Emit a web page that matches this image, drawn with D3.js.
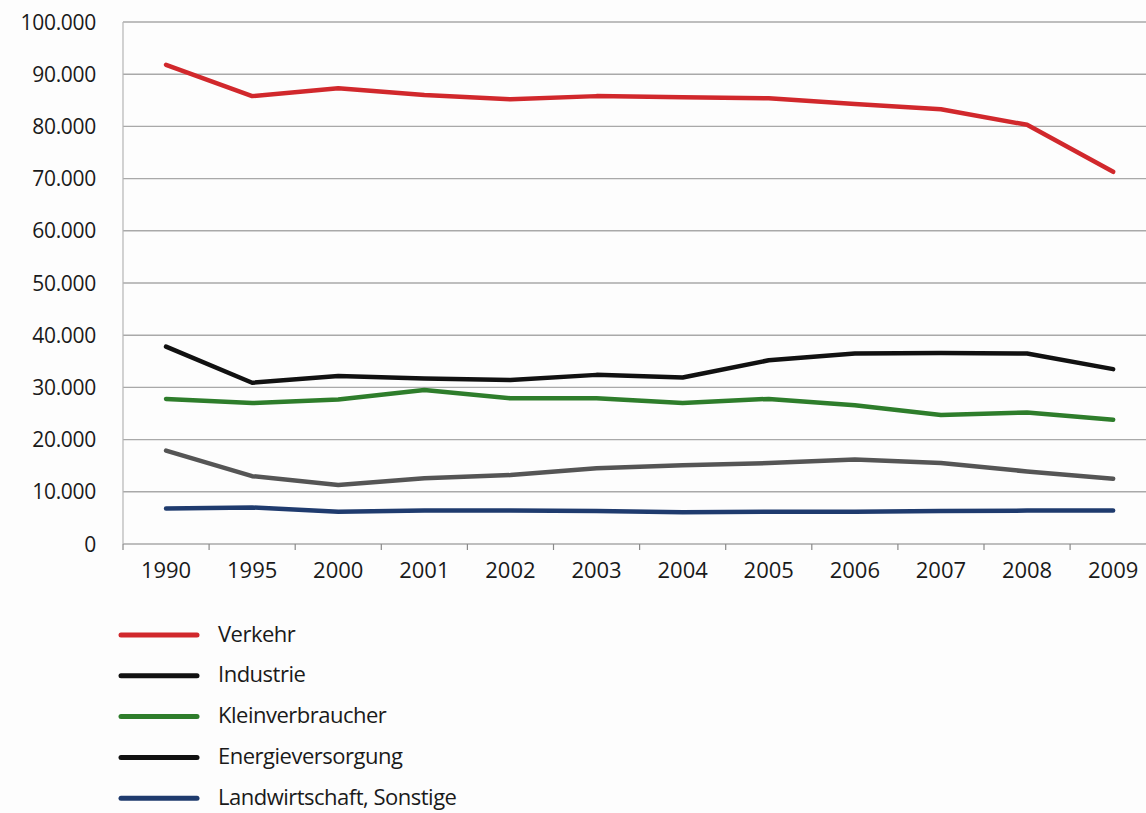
<!DOCTYPE html>
<html>
<head>
<meta charset="utf-8">
<script src="https://cdn.jsdelivr.net/npm/d3@7"></script>
<style>
  html, body { margin: 0; padding: 0; background: #fdfdfd; }
  svg { display: block; }
  text { font-family: "Open Sans", "DejaVu Sans", sans-serif; fill: #1a1a1a; }
</style>
</head>
<body>
<svg id="chart" width="1146" height="813"></svg>
<script>
// CO2-Emissionen nach Sektoren (Tonnen)
const years = ["1990", "1995", "2000", "2001", "2002", "2003", "2004", "2005", "2006", "2007", "2008", "2009"];

const verkehr           = [91800, 85800, 87300, 86000, 85200, 85800, 85600, 85400, 84300, 83300, 80300, 71300];
const industrie         = [37800, 30900, 32200, 31700, 31400, 32400, 31900, 35200, 36500, 36600, 36500, 33500];
const kleinverbraucher  = [27800, 27000, 27700, 29500, 27900, 27900, 27000, 27800, 26600, 24700, 25200, 23800];
const energieversorgung = [17900, 13000, 11300, 12600, 13200, 14500, 15100, 15500, 16200, 15500, 13900, 12500];
const landwirtschaft    = [6800, 7000, 6200, 6400, 6400, 6300, 6100, 6200, 6200, 6300, 6400, 6400];

const yTicks = [0, 10000, 20000, 30000, 40000, 50000, 60000, 70000, 80000, 90000, 100000];

const seriesNames  = ["Verkehr", "Industrie", "Kleinverbraucher", "Energieversorgung", "Landwirtschaft, Sonstige"];
const seriesValues = [verkehr, industrie, kleinverbraucher, energieversorgung, landwirtschaft];
const seriesColors = ["#d1282c", "#111111", "#2e7d2b", "#555555", "#1f3b6e"];
const legendColors = ["#d1282c", "#111111", "#2e7d2b", "#111111", "#1f3b6e"];

const de = d3.formatLocale({ decimal: ",", thousands: ".", grouping: [3], currency: ["", " €"] });
const fmt = v => v === 0 ? "0" : de.format(",")(v);

const svg = d3.select("#chart");
const plotLeft = 123, plotTop = 22, plotBottom = 544, plotRight = 1146;

const x = d3.scaleBand().domain(years).range([plotLeft, plotLeft + 12 * 86.1]).padding(0);
const y = d3.scaleLinear().domain([0, 100000]).range([plotBottom, plotTop]);

// horizontal gridlines
svg.append("g").selectAll("line").data(yTicks).join("line")
  .attr("x1", plotLeft).attr("x2", plotRight)
  .attr("y1", d => y(d)).attr("y2", d => y(d))
  .attr("stroke", "#a9a9a9").attr("stroke-width", 1.4);

// y axis line
svg.append("line")
  .attr("x1", plotLeft).attr("x2", plotLeft).attr("y1", plotTop).attr("y2", plotBottom)
  .attr("stroke", "#b5b5b5").attr("stroke-width", 1.2);

// y labels
svg.append("g").selectAll("text").data(yTicks).join("text")
  .attr("x", 96).attr("y", d => y(d)).attr("dy", "0.36em")
  .attr("text-anchor", "end").attr("font-size", 21).attr("letter-spacing", -0.3)
  .text(fmt);

// x axis ticks at band boundaries
const boundaries = years.map(d => x(d)).concat([x(years[years.length - 1]) + x.bandwidth()]);
svg.append("g").selectAll("line").data(boundaries).join("line")
  .attr("x1", d => d).attr("x2", d => d)
  .attr("y1", plotBottom).attr("y2", plotBottom + 6)
  .attr("stroke", "#8a8a8a").attr("stroke-width", 1.2);

// x labels
svg.append("g").selectAll("text").data(years).join("text")
  .attr("x", d => x(d) + x.bandwidth() / 2)
  .attr("y", 570).attr("dy", "0.36em")
  .attr("text-anchor", "middle").attr("font-size", 22)
  .text(d => d);

// series lines
const line = d3.line()
  .x((d, i) => x(years[i]) + x.bandwidth() / 2)
  .y(d => y(d));

svg.append("g").selectAll("path").data(seriesValues).join("path")
  .attr("d", d => line(d))
  .attr("fill", "none")
  .attr("stroke", (d, i) => seriesColors[i])
  .attr("stroke-width", 4.5)
  .attr("stroke-linejoin", "round")
  .attr("stroke-linecap", "round");

// legend
const legend = svg.append("g").attr("transform", "translate(121,635)");
const rows = legend.selectAll("g").data(seriesNames).join("g")
  .attr("transform", (d, i) => `translate(0,${i * 40.8})`);
rows.append("line")
  .attr("x1", 0).attr("x2", 76).attr("y1", 0).attr("y2", 0)
  .attr("stroke", (d, i) => legendColors[i])
  .attr("stroke-width", 5).attr("stroke-linecap", "round");
rows.append("text")
  .attr("x", 97).attr("y", 0).attr("dy", "0.3em")
  .attr("font-size", 22).attr("letter-spacing", -0.5)
  .text(d => d);
</script>
</body>
</html>
